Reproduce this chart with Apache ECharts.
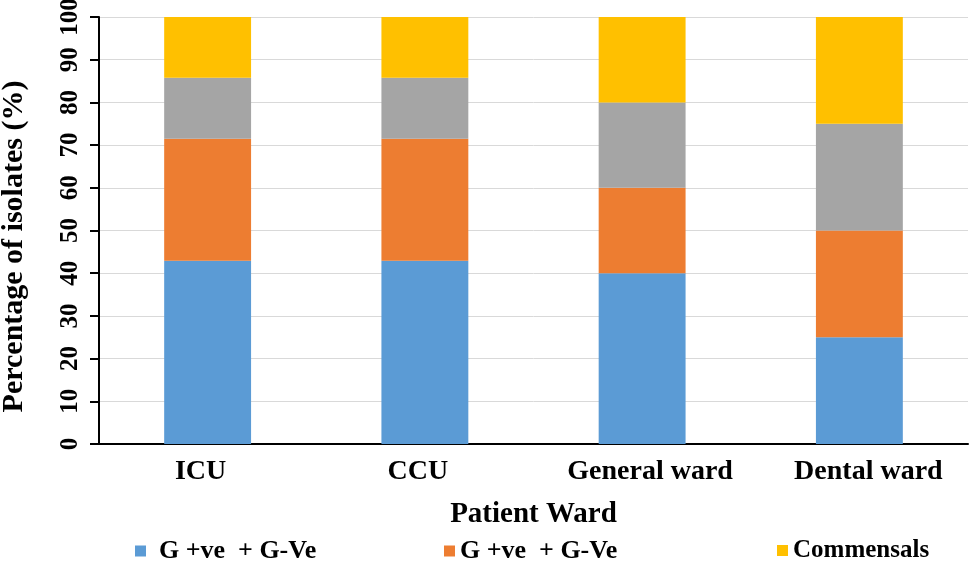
<!DOCTYPE html>
<html>
<head>
<meta charset="utf-8">
<script src="https://cdn.jsdelivr.net/npm/echarts@6/dist/echarts.min.js"></script>
<style>
html,body{margin:0;padding:0;background:#fff;}
#chart{width:975px;height:569px;}
</style>
</head>
<body>
<div id="chart"></div>
<script>
var categories = ['ICU', 'CCU', 'General ward', 'Dental ward'];
var seriesNames = ['G +ve  + G-Ve', 'G +ve  + G-Ve (2)', 'Other', 'Commensals'];
var legendLabels = ['G +ve  + G-Ve', 'G +ve  + G-Ve', 'Commensals'];
var blueValues = [42.9, 42.9, 40, 25];
var orangeValues = [28.6, 28.6, 20, 25];
var grayValues = [14.3, 14.3, 20, 25];
var yellowValues = [14.2, 14.2, 20, 25];
var yTicks = [0, 10, 20, 30, 40, 50, 60, 70, 80, 90, 100];

var colors = ['#5B9BD5', '#ED7D31', '#A5A5A5', '#FFC000'];
var font = 'Liberation Serif';
// small horizontal nudges of the category labels (style only)
var labelPads = [[0, 14, 0, 0], [0, 14, 0, 0], [0, 0, 0, 16], [0, 0, 0, 18]];
var chart = echarts.init(document.getElementById('chart'));

function legendFor(name, label, left, pad, size) {
  return {
    data: [name],
    left: left,
    top: 533,
    itemWidth: 11,
    itemHeight: 11,
    icon: 'rect',
    formatter: function () { return label; },
    textStyle: {fontFamily: font, fontWeight: 'bold', fontSize: size, color: '#000', padding: [0, 0, 0, pad]},
    selectedMode: false
  };
}

var valuesList = [blueValues, orangeValues, grayValues, yellowValues];
var series = valuesList.map(function (vals, i) {
  return {
    name: seriesNames[i],
    type: 'bar',
    stack: 'total',
    barWidth: '40%',
    data: vals,
    itemStyle: {color: colors[i]},
    emphasis: {disabled: true}
  };
});

var catData = categories.map(function (c, i) {
  return {value: c, textStyle: {padding: labelPads[i]}};
});

chart.setOption({
  animation: false,
  color: colors,
  grid: {left: 99, right: 7, top: 17, bottom: 125, containLabel: false, outerBoundsMode: 'none'},
  legend: [
    legendFor(seriesNames[0], legendLabels[0], 130, 8, 26),
    legendFor(seriesNames[1], legendLabels[1], 439, 0, 26),
    legendFor(seriesNames[3], legendLabels[2], 772, 0, 25)
  ],
  xAxis: {
    type: 'category',
    data: catData,
    name: 'Patient Ward',
    nameLocation: 'middle',
    nameGap: 56,
    nameTextStyle: {fontFamily: font, fontWeight: 'bold', fontSize: 29, color: '#000'},
    axisLine: {lineStyle: {color: '#000', width: 2}},
    axisTick: {show: false},
    axisLabel: {interval: 0, hideOverlap: false, margin: 14, fontFamily: font, fontWeight: 'bold', fontSize: 28, color: '#000'}
  },
  yAxis: {
    type: 'value',
    min: yTicks[0],
    max: yTicks[yTicks.length - 1],
    interval: 10,
    name: 'Percentage of isolates (%)',
    nameLocation: 'middle',
    nameGap: 70,
    nameTextStyle: {fontFamily: font, fontWeight: 'bold', fontSize: 30, color: '#000', padding: [0, 32, 0, 0]},
    axisLine: {show: true, lineStyle: {color: '#000', width: 2}},
    axisTick: {show: true, length: 9, lineStyle: {color: '#000', width: 2}},
    axisLabel: {rotate: 90, margin: 16, fontFamily: font, fontWeight: 'bold', fontSize: 25, color: '#000'},
    splitLine: {lineStyle: {color: '#D9D9D9', width: 1}}
  },
  series: series
});
</script>
</body>
</html>
